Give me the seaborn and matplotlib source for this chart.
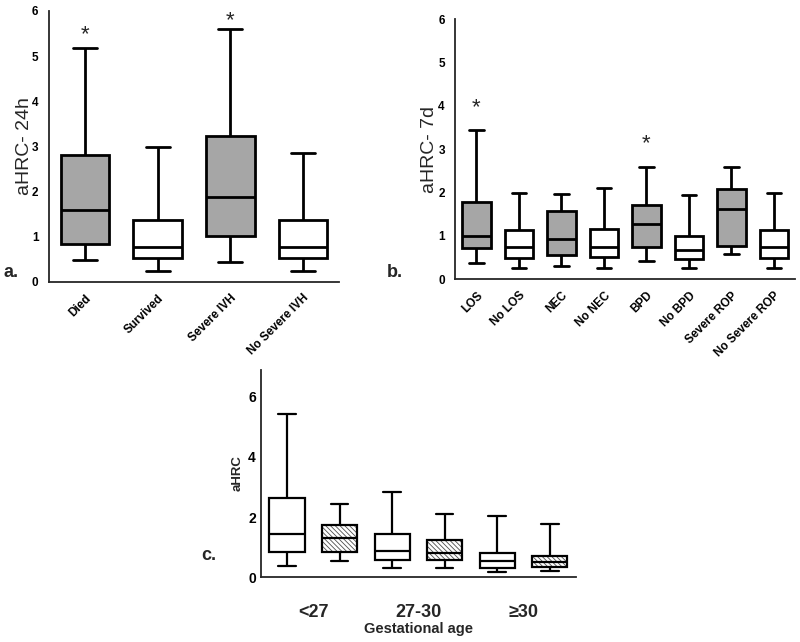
import numpy as np
import pandas as pd
import matplotlib
matplotlib.use("Agg")
import matplotlib.pyplot as plt
import seaborn as sns

# panel a: aHRC at 24h (min, q1, median, q3, max)
a_labels = ["Died", "Survived", "Severe IVH", "No Severe IVH"]
a_min = [0.48, 0.25, 0.44, 0.25]
a_q1 = [0.83, 0.53, 1.01, 0.53]
a_med = [1.59, 0.78, 1.87, 0.78]
a_q3 = [2.81, 1.37, 3.22, 1.36]
a_max = [5.17, 2.99, 5.61, 2.85]
a_gray = ["Died", "Severe IVH"]
a_star = {"Died": 5.48, "Severe IVH": 5.78}

# panel b: aHRC at 7d
b_labels = ["LOS", "No LOS", "NEC", "No NEC", "BPD", "No BPD",
            "Severe ROP", "No Severe ROP"]
b_min = [0.38, 0.25, 0.31, 0.25, 0.43, 0.25, 0.59, 0.25]
b_q1 = [0.72, 0.50, 0.57, 0.52, 0.75, 0.47, 0.77, 0.50]
b_med = [1.00, 0.74, 0.92, 0.75, 1.27, 0.68, 1.63, 0.74]
b_q3 = [1.78, 1.14, 1.58, 1.15, 1.72, 0.99, 2.09, 1.14]
b_max = [3.45, 1.99, 1.96, 2.10, 2.58, 1.95, 2.58, 1.98]
b_gray = ["LOS", "NEC", "BPD", "Severe ROP"]
b_star = {"LOS": 3.97, "BPD": 3.12}

# panel c: aHRC by gestational age, two boxes per group
c_groups = ["<27", "27-30", "≥30"]
c_series = ["open", "hatched"]
c_min = [0.37, 0.53, 0.30, 0.30, 0.17, 0.20]
c_q1 = [0.83, 0.83, 0.57, 0.57, 0.30, 0.33]
c_med = [1.43, 1.30, 0.87, 0.80, 0.53, 0.50]
c_q3 = [2.63, 1.73, 1.43, 1.23, 0.80, 0.70]
c_max = [5.43, 2.43, 2.83, 2.10, 2.03, 1.78]

GRAY = "#a6a6a6"


def five_num_frame(labels, mins, q1s, meds, q3s, maxs):
    # five points per box give exactly these quartiles with linear percentiles
    rows = []
    for lab, v0, v1, v2, v3, v4 in zip(labels, mins, q1s, meds, q3s, maxs):
        for v in (v0, v1, v2, v3, v4):
            rows.append({"group": lab, "value": v})
    return pd.DataFrame(rows)


def style_axis(ax, lw=1.3):
    sns.despine(ax=ax)
    for s in ("left", "bottom"):
        ax.spines[s].set_linewidth(lw)
    ax.tick_params(direction="out", length=4, width=lw, colors="black")
    for t in ax.get_yticklabels():
        t.set_fontweight("bold")


sns.set_style("white")
plt.rcParams["font.family"] = ["Liberation Sans", "DejaVu Sans"]
plt.rcParams["hatch.linewidth"] = 0.6

fig = plt.figure(figsize=(8, 6.42), dpi=100)

# ---- panel a
ax_a = fig.add_axes([0.061, 0.561, 0.363, 0.422])
df_a = five_num_frame(a_labels, a_min, a_q1, a_med, a_q3, a_max)
pal_a = {k: (GRAY if k in a_gray else "white") for k in a_labels}
sns.boxplot(data=df_a, x="group", y="value", hue="group", order=a_labels,
            palette=pal_a, whis=(0, 100), width=0.67, linecolor="black",
            linewidth=2, fliersize=0, legend=False, ax=ax_a)
ax_a.set_ylim(0, 6)
ax_a.set_xlim(-0.5, 3.5)
ax_a.set_yticks(range(7))
ax_a.set_xlabel("")
ax_a.set_ylabel("aHRC- 24h", fontsize=14)
ax_a.yaxis.set_label_coords(-0.055, 0.5)
ax_a.set_xticks(range(len(a_labels)))
ax_a.set_xticklabels(a_labels, rotation=45, ha="right", rotation_mode="anchor",
                     fontsize=8.5, fontweight="bold")
style_axis(ax_a)
ax_a.tick_params(axis="y", labelsize=8.5)
for k, y in a_star.items():
    ax_a.text(a_labels.index(k), y, "*", ha="center", va="center", fontsize=16)

# ---- panel b
ax_b = fig.add_axes([0.569, 0.565, 0.425, 0.405])
df_b = five_num_frame(b_labels, b_min, b_q1, b_med, b_q3, b_max)
pal_b = {k: (GRAY if k in b_gray else "white") for k in b_labels}
sns.boxplot(data=df_b, x="group", y="value", hue="group", order=b_labels,
            palette=pal_b, whis=(0, 100), width=0.67, linecolor="black",
            linewidth=2, fliersize=0, legend=False, ax=ax_b)
ax_b.set_ylim(0, 6)
ax_b.set_xlim(-0.5, 7.5)
ax_b.set_yticks(range(7))
ax_b.set_xlabel("")
ax_b.set_ylabel("aHRC- 7d", fontsize=14)
ax_b.yaxis.set_label_coords(-0.05, 0.5)
ax_b.set_xticks(range(len(b_labels)))
ax_b.set_xticklabels(b_labels, rotation=45, ha="right", rotation_mode="anchor",
                     fontsize=8.5, fontweight="bold")
style_axis(ax_b)
ax_b.tick_params(axis="y", labelsize=8.5)
for k, y in b_star.items():
    ax_b.text(b_labels.index(k), y, "*", ha="center", va="center", fontsize=16)

# ---- panel c
ax_c = fig.add_axes([0.326, 0.101, 0.394, 0.323])
c_keys = [f"{g} {s}" for g in c_groups for s in c_series]
df_c = five_num_frame(c_keys, c_min, c_q1, c_med, c_q3, c_max)
sns.boxplot(data=df_c, x="group", y="value", order=c_keys, color="white",
            whis=(0, 100), width=0.67, linecolor="black", linewidth=1.6,
            fliersize=0, ax=ax_c)
for p in ax_c.patches:
    xc = int(round(p.get_path().vertices[:, 0].mean()))
    if c_keys[xc].endswith("hatched"):
        p.set_hatch("\\" * 7)
        p._hatch_color = (0.3, 0.3, 0.3, 1.0)
ax_c.set_ylim(0, 6.9)
ax_c.set_xlim(-0.5, 5.5)
ax_c.set_yticks([0, 2, 4, 6])
ax_c.set_xticks(range(len(c_keys)))
ax_c.set_xticklabels([""] * len(c_keys))
ax_c.set_xticks([0.5, 2.5, 4.5], c_groups, minor=True)
ax_c.tick_params(axis="x", which="minor", length=0, pad=19, labelsize=13)
for t in ax_c.get_xticklabels(minor=True):
    t.set_fontweight("bold")
ax_c.set_xlabel("Gestational age", fontsize=10.5, fontweight="bold", labelpad=1)
ax_c.set_ylabel("aHRC", fontsize=9.5, fontweight="bold")
ax_c.yaxis.set_label_coords(-0.055, 0.5)
style_axis(ax_c)
ax_c.tick_params(axis="y", labelsize=10, length=2, pad=1.5)

fig.text(0.004, 0.568, "a.", fontsize=13, fontweight="bold")
fig.text(0.483, 0.568, "b.", fontsize=13, fontweight="bold")
fig.text(0.252, 0.128, "c.", fontsize=13, fontweight="bold")

fig.savefig("out.png", dpi=100)
